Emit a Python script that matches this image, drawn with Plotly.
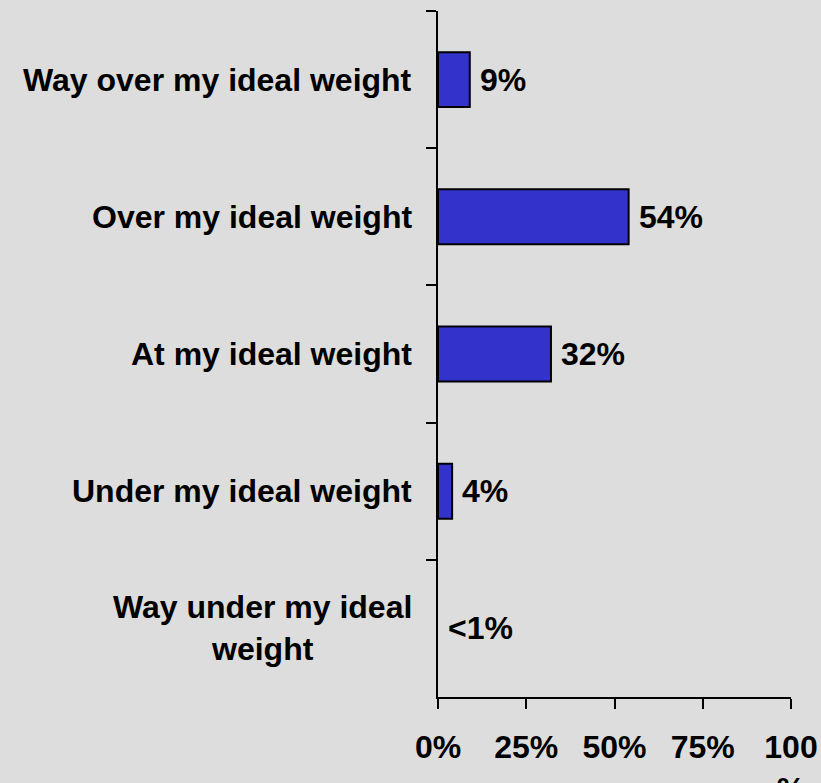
import plotly.graph_objects as go

categories = ["Way over my ideal weight", "Over my ideal weight", "At my ideal weight",
              "Under my ideal weight", "Way under my ideal<br>weight"]
values = [9, 54, 32, 4, 0]
value_labels = ["9%", "54%", "32%", "4%", "<1%"]
x_tickvals = [0, 25, 50, 75, 100]
x_ticktext = ["0%", "25%", "50%", "75%", "100<br>%"]

FONT = dict(family="Liberation Sans, Arial, sans-serif", size=32, color="black", weight="bold")
BG = "#DDDDDD"

fig = go.Figure()
fig.add_trace(go.Bar(
    x=values, y=categories, orientation="h", width=0.4,
    marker=dict(color="#3333CC",
                line=dict(color="black", width=[2 if v > 0 else 0 for v in values])),
    hoverinfo="skip",
))

annotations = []
for c in categories:
    annotations.append(dict(x=0, xref="paper", y=c, yref="y", text=c, showarrow=False,
                            xanchor="right", yanchor="middle", xshift=-24, align="center",
                            font=FONT))
for c, v, t in zip(categories, values, value_labels):
    annotations.append(dict(x=v, xref="x", y=c, yref="y", text=t, showarrow=False,
                            xanchor="left", yanchor="middle", xshift=8, font=FONT))

fig.update_layout(
    width=821, height=783,
    margin=dict(l=438, r=30, t=11, b=86, autoexpand=False),
    paper_bgcolor=BG, plot_bgcolor=BG,
    showlegend=False,
    annotations=annotations,
    xaxis=dict(range=[0, 100], tickvals=x_tickvals, ticktext=x_ticktext,
               showline=True, linecolor="black", linewidth=2,
               ticks="outside", ticklen=10, tickwidth=2, tickcolor="black",
               showgrid=False, zeroline=False, tickfont=FONT, ticklabelstandoff=11,
               automargin=False),
    yaxis=dict(autorange="reversed", showticklabels=False,
               showline=True, linecolor="black", linewidth=2,
               ticks="outside", ticklen=10, tickwidth=2, tickcolor="black",
               tickson="boundaries", showgrid=False, zeroline=False, automargin=False),
)

fig.write_html("out.html", config={"displayModeBar": False},
               post_script="document.body.style.margin='0';document.body.style.overflow='hidden';")
